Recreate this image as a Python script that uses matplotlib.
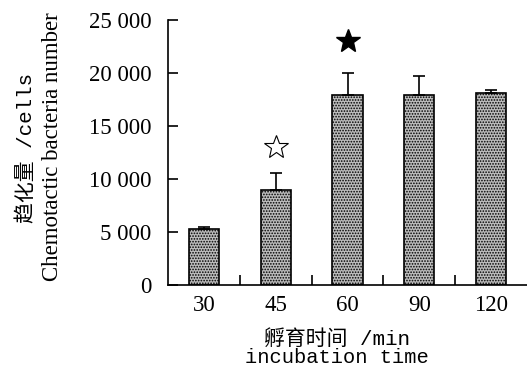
import matplotlib
matplotlib.use('Agg')
import matplotlib.pyplot as plt
from matplotlib.ticker import FixedLocator

plt.rcParams['hatch.color'] = '#3a3a3a'
plt.rcParams['hatch.linewidth'] = 0.8

# data
times = ['30', '45', '60', '90', '120']
means = [5300, 9000, 17900, 17900, 18100]
errs = [150, 1550, 2100, 1800, 300]
star_open = (1, 13000)
star_fill = (2, 23000)

serif = ['Liberation Serif', 'Noto Sans CJK SC']
mono = ['Liberation Mono', 'Noto Sans CJK SC']

fig = plt.figure(figsize=(5.27, 3.79), dpi=100)
ax = fig.add_axes([0.319, 0.248, 0.681, 0.699])

x = range(len(times))
ax.bar(x, means, width=0.42, color='#bcbcbc', edgecolor='black', linewidth=1.2,
       hatch='......', zorder=2)
ax.errorbar(x, means, yerr=[[0] * len(errs), errs], fmt='none', ecolor='black',
            elinewidth=1.2, capsize=4, capthick=1.2, zorder=3)

ax.plot(*star_open, marker='*', markersize=18, markerfacecolor='white',
        markeredgecolor='black', markeredgewidth=0.8, linestyle='none')
ax.plot(*star_fill, marker='*', markersize=18, color='black', linestyle='none')

ax.set_xlim(-0.5, len(times) - 0.5)
ax.set_ylim(0, 25000)
ax.set_xticks(list(x))
ax.set_xticklabels(times, family=serif, fontsize=16.5)
ax.tick_params(axis='x', which='major', length=0, pad=7)
ax.xaxis.set_minor_locator(FixedLocator([i + 0.5 for i in range(len(times) - 1)]))
ax.tick_params(axis='x', which='minor', direction='in', length=7, width=1.2)

ax.set_yticks([0, 5000, 10000, 15000, 20000, 25000])
ax.set_yticklabels(['0', '5 000', '10 000', '15 000', '20 000', '25 000'],
                   family=serif, fontsize=16.5)
ax.tick_params(axis='y', direction='in', length=7, width=1.2, pad=12)

for s in ['top', 'right']:
    ax.spines[s].set_visible(False)
for s in ['left', 'bottom']:
    ax.spines[s].set_linewidth(1.2)

fig.text(0.05, 0.61, '趋化量 /cells', rotation=90, ha='center', va='center',
         fontsize=15, family=mono)
fig.text(0.1, 0.612, 'Chemotactic bacteria number', rotation=90, ha='center',
         va='center', fontsize=16.5, family=serif)
fig.text(0.64, 0.105, '孵育时间 /min', ha='center', va='center', fontsize=15,
         family=mono)
fig.text(0.64, 0.058, 'incubation time', ha='center', va='center', fontsize=14.7,
         family=mono)

fig.savefig('out.png', dpi=100)
